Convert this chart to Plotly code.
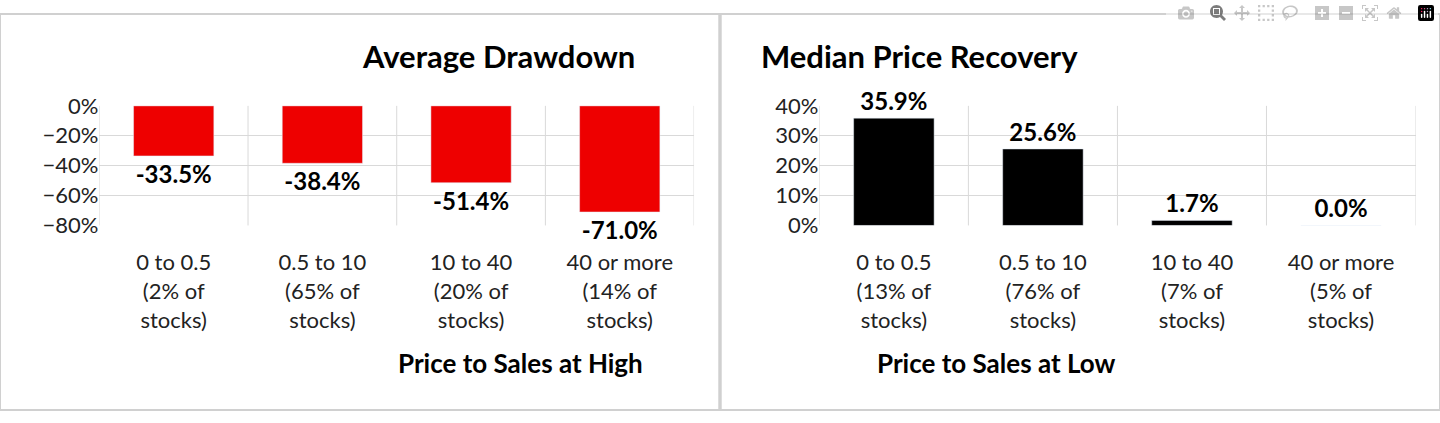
import plotly.graph_objects as go

cats_left = ["0 to 0.5<br>(2% of<br>stocks)", "0.5 to 10<br>(65% of<br>stocks)",
             "10 to 40<br>(20% of<br>stocks)", "40 or more<br>(14% of<br>stocks)"]
drawdown = [-33.5, -38.4, -51.4, -71.0]
cats_right = ["0 to 0.5<br>(13% of<br>stocks)", "0.5 to 10<br>(76% of<br>stocks)",
              "10 to 40<br>(7% of<br>stocks)", "40 or more<br>(5% of<br>stocks)"]
recovery = [35.9, 25.6, 1.7, 0.0]

FONT = "Lato, Noto Sans, sans-serif"
GRID = "#d9d9d9"

fig = go.Figure()
fig.add_trace(go.Bar(x=[0, 1, 2, 3], y=drawdown, marker_color="#ee0000", width=0.54,
                     text=[f"<b>{v:.1f}%</b>" for v in drawdown], textposition="outside",
                     textfont=dict(size=24, color="black"), cliponaxis=False,
                     xaxis="x", yaxis="y"))
fig.add_trace(go.Bar(x=[0, 1, 2, 3], y=recovery, marker_color="black", width=0.54,
                     text=[f"<b>{v:.1f}%</b>" for v in recovery], textposition="outside",
                     textfont=dict(size=24, color="black"), cliponaxis=False,
                     xaxis="x2", yaxis="y2"))

xcommon = dict(tickmode="array", tickvals=[0, 1, 2, 3], range=[-0.5, 3.5],
               showgrid=False, zeroline=False, tickfont=dict(size=22, color="#222"),
               showline=False, ticks="", ticklabelstandoff=22)
ycommon = dict(gridcolor=GRID, zeroline=False, ticksuffix="%",
               tickfont=dict(size=22, color="#222"))
fig.update_layout(
    width=1440, height=423, autosize=False, margin=dict(l=0, r=0, t=0, b=0),
    plot_bgcolor="white", paper_bgcolor="white", showlegend=False,
    font=dict(family=FONT, color="black"),
    xaxis=dict(domain=[0.069, 0.482], ticktext=cats_left, anchor="y", **xcommon),
    yaxis=dict(domain=[0.466, 0.768], range=[-80, 0], dtick=20, anchor="x", **ycommon),
    xaxis2=dict(domain=[0.569, 0.983], ticktext=cats_right, anchor="y2", **xcommon),
    yaxis2=dict(domain=[0.466, 0.768], range=[0, 40], dtick=10, anchor="x2", **ycommon),
    annotations=[
        dict(text="<b>Average Drawdown</b>", x=0.25, y=1 - 45 / 423, xref="paper", yref="paper",
             yanchor="middle", showarrow=False, font=dict(size=31)),
        dict(text="<b>Median Price Recovery</b>", x=0.75, y=1 - 45 / 423, xref="paper", yref="paper",
             yanchor="middle", showarrow=False, font=dict(size=31)),
        dict(text="<b>Price to Sales at High</b>", x=0.275, y=1 - 373 / 423, xref="paper", yref="paper",
             yanchor="middle", showarrow=False, font=dict(size=26)),
        dict(text="<b>Price to Sales at Low</b>", x=0.776, y=1 - 373 / 423, xref="paper", yref="paper",
             yanchor="middle", showarrow=False, font=dict(size=26)),
    ],
)

shapes = []
for xr, yr in [("x", "y domain"), ("x2", "y2 domain")]:
    for xv in [-0.5, 0.5, 1.5, 2.5, 3.5]:
        shapes.append(dict(type="line", xref=xr, yref=yr, x0=xv, x1=xv, y0=0, y1=1,
                           line=dict(color=GRID, width=1), layer="below"))
shapes.append(dict(type="rect", xref="paper", yref="paper", x0=0, x1=0.4995, y0=0, y1=1,
                   line=dict(color="#d0d0d0", width=2)))
shapes.append(dict(type="rect", xref="paper", yref="paper", x0=0.5005, x1=1, y0=0, y1=1,
                   line=dict(color="#d0d0d0", width=2)))
fig.update_layout(shapes=shapes)

fig.write_html("out.html",
               post_script="document.body.style.margin='0';document.body.style.overflow='hidden';")
